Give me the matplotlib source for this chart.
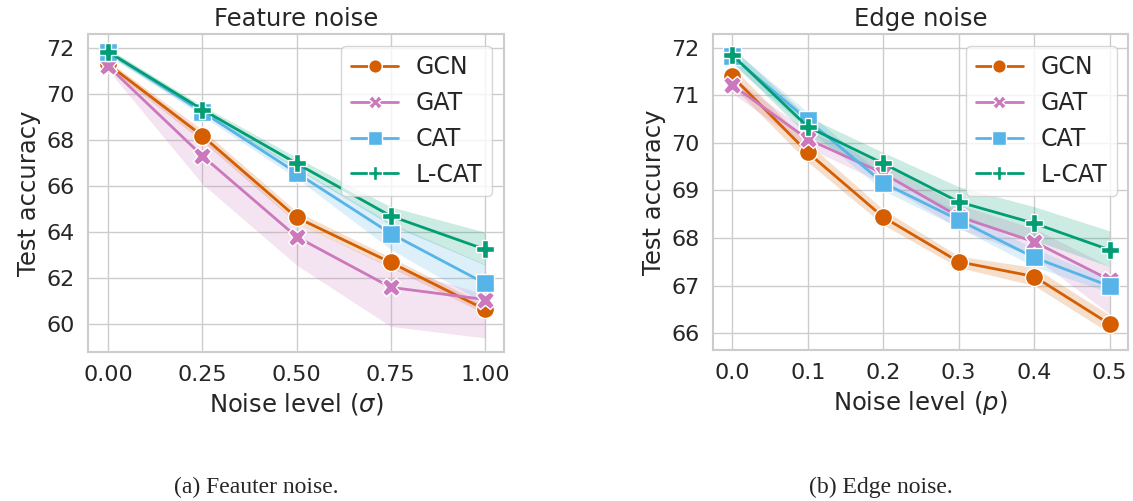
import matplotlib
matplotlib.use("Agg")
import matplotlib.pyplot as plt
import seaborn as sns

sns.set_theme(style="whitegrid")
plt.rcParams['font.family'] = ['DejaVu Sans']

MODELS = ["GCN", "GAT", "CAT", "L-CAT"]
COLORS = ["#d55e00", "#cc78bc", "#56b4e9", "#029e73"]
MARKERS = ["o", "X", "s", "P"]

# feature noise
feat_x = [0.0, 0.25, 0.5, 0.75, 1.0]
feat_mean = {
    "GCN":   [71.30, 68.19, 64.64, 62.68, 60.64],
    "GAT":   [71.22, 67.32, 63.80, 61.60, 61.07],
    "CAT":   [71.84, 69.23, 66.58, 63.94, 61.77],
    "L-CAT": [71.84, 69.33, 66.99, 64.70, 63.25],
}
feat_lo = {
    "GCN":   [71.15, 67.95, 64.40, 62.45, 60.45],
    "GAT":   [71.05, 66.10, 62.57, 59.90, 59.40],
    "CAT":   [71.70, 69.05, 66.35, 63.25, 60.90],
    "L-CAT": [71.70, 69.15, 66.75, 64.30, 62.57],
}
feat_hi = {
    "GCN":   [71.45, 68.45, 64.90, 62.90, 60.85],
    "GAT":   [71.40, 68.30, 64.40, 62.50, 61.30],
    "CAT":   [71.98, 69.40, 66.80, 64.40, 62.60],
    "L-CAT": [71.98, 69.50, 67.25, 65.10, 64.00],
}

# edge noise
edge_x = [0.0, 0.1, 0.2, 0.3, 0.4, 0.5]
edge_mean = {
    "GCN":   [71.40, 69.80, 68.44, 67.50, 67.19, 66.19],
    "GAT":   [71.22, 70.08, 69.36, 68.45, 67.92, 67.12],
    "CAT":   [71.82, 70.48, 69.16, 68.38, 67.59, 66.99],
    "L-CAT": [71.85, 70.34, 69.57, 68.76, 68.31, 67.75],
}
edge_lo = {
    "GCN":   [71.20, 69.60, 68.28, 67.38, 67.00, 66.00],
    "GAT":   [71.05, 69.90, 69.15, 68.20, 67.60, 66.40],
    "CAT":   [71.65, 70.30, 69.00, 68.22, 67.40, 66.85],
    "L-CAT": [71.70, 70.15, 69.35, 68.45, 67.95, 67.40],
}
edge_hi = {
    "GCN":   [71.60, 70.00, 68.60, 67.62, 67.38, 66.38],
    "GAT":   [71.38, 70.25, 69.55, 68.70, 68.20, 67.40],
    "CAT":   [71.98, 70.65, 69.32, 68.55, 67.78, 67.12],
    "L-CAT": [72.00, 70.55, 69.80, 69.08, 68.66, 68.15],
}


def draw(ax, x, mean, lo, hi):
    for m, c, mk in zip(MODELS, COLORS, MARKERS):
        ax.fill_between(x, lo[m], hi[m], color=c, alpha=0.2, linewidth=0)
        ax.plot(x, mean[m], color=c, marker=mk, markersize=13, lw=2,
                markeredgecolor="white", markeredgewidth=1, label=m)
    ax.tick_params(labelsize=16)
    for s in ax.spines.values():
        s.set_color("#cccccc")
        s.set_linewidth(1.5)
    ax.legend(loc="upper right", fontsize=17, handlelength=2.0,
              markerscale=0.75, handletextpad=0.75, borderpad=0.4)


fig = plt.figure(figsize=(11.33, 5.01), dpi=100)
ax1 = fig.add_axes([0.0777, 0.297, 0.367, 0.635])
ax2 = fig.add_axes([0.629, 0.301, 0.367, 0.631])

draw(ax1, feat_x, feat_mean, feat_lo, feat_hi)
ax1.set_xlim(-0.053, 1.05)
ax1.set_ylim(58.78, 72.61)
ax1.set_xticks(feat_x)
ax1.set_xticklabels(["0.00", "0.25", "0.50", "0.75", "1.00"])
ax1.set_yticks([60, 62, 64, 66, 68, 70, 72])
ax1.set_title("Feature noise", fontsize=17.5)
ax1.set_xlabel(r"Noise level ($\sigma$)", fontsize=17.5)
ax1.set_ylabel("Test accuracy", fontsize=17.5)

draw(ax2, edge_x, edge_mean, edge_lo, edge_hi)
ax2.set_xlim(-0.026, 0.525)
ax2.set_ylim(65.64, 72.29)
ax2.set_xticks(edge_x)
ax2.set_yticks([66, 67, 68, 69, 70, 71, 72])
ax2.set_title("Edge noise", fontsize=17.5)
ax2.set_xlabel(r"Noise level ($p$)", fontsize=17.5)
ax2.set_ylabel("Test accuracy", fontsize=17.5)

fig.text(256 / 1133, 1 - 487 / 501, "(a) Feauter noise.", ha="center", va="center",
         fontsize=17, family="Liberation Serif")
fig.text(881 / 1133, 1 - 487 / 501, "(b) Edge noise.", ha="center", va="center",
         fontsize=17, family="Liberation Serif")

fig.savefig("out.png", dpi=100)
